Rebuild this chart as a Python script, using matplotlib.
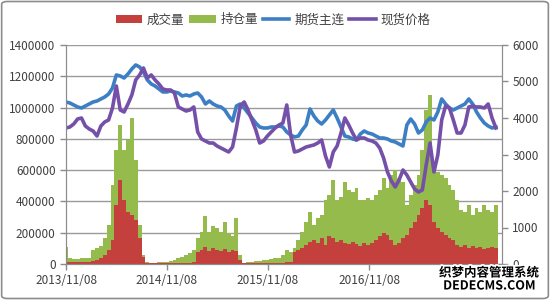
import matplotlib
matplotlib.use("Agg")
import matplotlib.pyplot as plt
import matplotlib.dates as mdates
import matplotlib.patheffects as pe
from matplotlib.patches import FancyBboxPatch
from matplotlib.ticker import FuncFormatter
import pandas as pd

plt.rcParams["font.family"] = ["Noto Sans CJK SC", "DejaVu Sans"]

# sampled every 14 days from 2013/11/08
dates = pd.date_range("2013-11-08", periods=112, freq="14D")

volume = [  # 成交量
    13000, 13000, 13000, 13000, 13000, 13000, 13000, 19000, 26000, 38000,
    58000, 90000, 153000, 377000, 537000, 409000, 332000, 313000, 281000, 166000,
    45000, 6000, 6000, 6000, 6000, 6000, 6000, 6000, 6000, 6000,
    6000, 6000, 6000, 13000, 77000, 90000, 109000, 83000, 102000, 90000,
    83000, 96000, 77000, 90000, 83000, 26000, 6000, 6000, 6000, 6000,
    6000, 6000, 6000, 6000, 6000, 6000, 6000, 13000, 13000, 77000,
    90000, 102000, 121000, 141000, 153000, 134000, 166000, 121000, 179000, 166000,
    141000, 153000, 134000, 128000, 141000, 128000, 115000, 134000, 121000, 134000,
    153000, 179000, 198000, 185000, 153000, 121000, 134000, 166000, 185000, 230000,
    268000, 313000, 358000, 409000, 377000, 268000, 230000, 205000, 185000, 166000,
    153000, 121000, 109000, 121000, 102000, 115000, 102000, 109000, 96000, 102000,
    109000, 102000,
]

open_interest = [  # 持仓量
    109000, 38000, 32000, 32000, 38000, 38000, 38000, 89000, 102000, 115000,
    166000, 249000, 505000, 729000, 889000, 729000, 793000, 933000, 665000, 249000,
    58000, 13000, 6000, 6000, 13000, 13000, 13000, 19000, 26000, 38000,
    45000, 58000, 70000, 90000, 166000, 205000, 307000, 205000, 243000, 230000,
    205000, 268000, 198000, 179000, 294000, 58000, 6000, 13000, 13000, 19000,
    19000, 26000, 26000, 32000, 38000, 38000, 58000, 90000, 77000, 102000,
    153000, 205000, 268000, 332000, 249000, 294000, 313000, 409000, 441000, 537000,
    409000, 428000, 524000, 473000, 460000, 486000, 409000, 409000, 422000, 409000,
    441000, 473000, 550000, 486000, 569000, 601000, 550000, 524000, 377000, 441000,
    505000, 569000, 729000, 985000, 1080000, 633000, 588000, 569000, 550000, 505000,
    473000, 409000, 345000, 332000, 377000, 313000, 358000, 332000, 377000, 345000,
    332000, 377000,
]

futures = [  # 期货主连
    4439, 4411, 4357, 4302, 4274, 4329, 4384, 4439, 4466, 4521,
    4576, 4658, 4822, 5179, 5151, 5096, 5206, 5343, 5453, 5398,
    5261, 5042, 4932, 4877, 4795, 4713, 4713, 4740, 4713, 4685,
    4603, 4631, 4603, 4658, 4685, 4576, 4384, 4466, 4384, 4329,
    4302, 4220, 4055, 3918, 4329, 4384, 4274, 4137, 4000, 3863,
    3754, 3726, 3726, 3754, 3754, 3781, 3754, 3617, 3535, 3480,
    3507, 3672, 3809, 4247, 4055, 3918, 3836, 3946, 4083, 4220,
    4000, 3754, 3507, 3480, 3425, 3398, 3562, 3644, 3589, 3562,
    3507, 3452, 3452, 3425, 3370, 3343, 3288, 3233, 3809, 3973,
    3836, 3589, 3672, 3891, 4000, 3946, 4165, 4521, 4384, 4274,
    4220, 4274, 4329, 4384, 4521, 4384, 4165, 4000, 3863, 3781,
    3726, 3754,
]

spot = [  # 现货价格
    3726, 3754, 3836, 3973, 4000, 3781, 3699, 3644, 3507, 3781,
    3891, 3946, 4274, 4877, 4220, 4165, 4384, 4631, 5042, 5179,
    5370, 5096, 5179, 5042, 4932, 4795, 4768, 4768, 4685, 4302,
    4247, 4192, 4220, 4302, 3617, 3425, 3370, 3315, 3315, 3233,
    3178, 3124, 3069, 3206, 3726, 4329, 4439, 4220, 3946, 3672,
    3315, 3370, 3507, 3617, 3726, 3809, 3863, 4357, 3535, 3069,
    3096, 3151, 3206, 3233, 3261, 3315, 3398, 2959, 2658, 3069,
    3233, 3589, 4000, 3809, 3589, 3398, 3452, 3452, 3398, 3370,
    3315, 3178, 2904, 2521, 2274, 2110, 2302, 2576, 2439, 2247,
    2055, 1973, 2028, 2713, 3315, 2521, 2987, 3946, 4329, 4274,
    3946, 3589, 3589, 3809, 4302, 4329, 4302, 4302, 4274, 4384,
    4000, 3726,
]

tick_labels = ["2013/11/08", "2014/11/08", "2015/11/08", "2016/11/08"]

x = mdates.date2num(dates)
start = mdates.date2num(pd.Timestamp("2013-11-08"))
tick_pos = mdates.date2num(pd.to_datetime(tick_labels, format="%Y/%m/%d"))

fig = plt.figure(figsize=(5.5, 3), dpi=100)
fig.patches.append(FancyBboxPatch((0.003, 0.005), 0.994, 0.99, boxstyle="round,pad=0,rounding_size=0.01",
                                  transform=fig.transFigure, fill=False, edgecolor="#8c8c8c", linewidth=1.2))

ax = fig.add_axes([66 / 550, 36 / 300, 436 / 550, 219 / 300])
ax2 = ax.twinx()

grey = "#8c8c8c"
ax.bar(x, open_interest, width=14, color="#94bb4c", linewidth=0, antialiased=False, label="持仓量")
ax.bar(x, volume, width=14, color="#c4403c", linewidth=0, antialiased=False, label="成交量")

ax2.plot(x, futures, color="#3d7fc4", linewidth=2.6, label="期货主连")
ax2.plot(x, spot, color="#7550a8", linewidth=2.6, label="现货价格")

ax.set_xlim(start, start + 1576)
ax.set_ylim(0, 1400000)
ax.set_yticks(range(0, 1400001, 200000))
ax.yaxis.set_major_formatter(FuncFormatter(lambda v, p: f"{int(v)}"))
ax.yaxis.grid(True, color="#9a9a9a", linewidth=1)
ax.set_axisbelow(True)
ax2.set_ylim(0, 6000)
ax2.set_yticks(range(0, 6001, 1000))

ax.set_xticks(tick_pos)
ax.set_xticklabels(tick_labels)

for a in (ax, ax2):
    a.spines["top"].set_visible(False)
    for s in ("left", "right", "bottom"):
        a.spines[s].set_color(grey)
    a.tick_params(colors=grey, labelcolor="#404040", labelsize=8.5, length=4, width=1)

# legend: bars first, then lines
h1, l1 = ax.get_legend_handles_labels()
h2, l2 = ax2.get_legend_handles_labels()
handles = [h1[1], h1[0]] + h2
labels = [l1[1], l1[0]] + l2
fig.legend(handles, labels, loc="center", bbox_to_anchor=(273 / 550, 1 - 20 / 300), ncol=4, frameon=False,
           fontsize=9, handlelength=2.1, handleheight=0.55, columnspacing=0.4, handletextpad=0.4,
           labelcolor="#404040")

# watermark of the source image
wm = dict(color="black", fontweight="bold", ha="center", va="center",
          path_effects=[pe.withStroke(linewidth=2.5, foreground="white")])
fig.text(489 / 550, 1 - 273 / 300, "织梦内容管理系统", fontsize=9, **wm)
fig.text(489 / 550, 1 - 286 / 300, "DEDECMS.COM", fontsize=9, **wm)

plt.savefig("out.png", dpi=100)
